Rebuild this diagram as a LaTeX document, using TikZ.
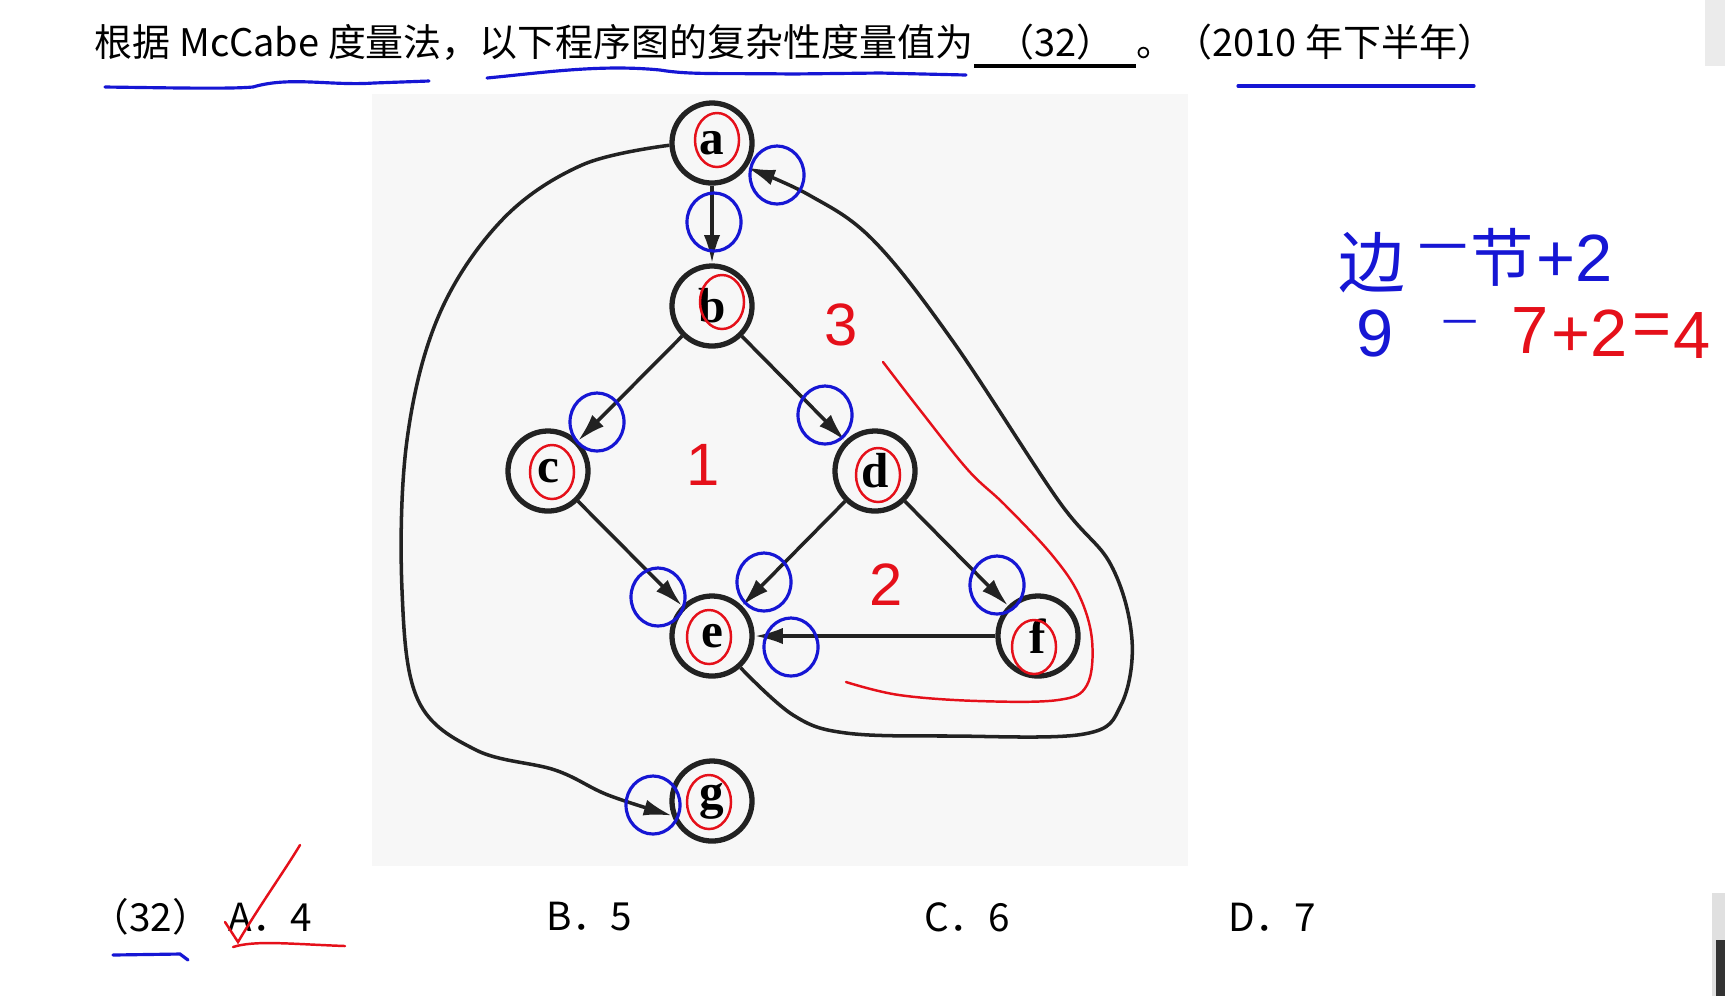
\documentclass[tikz,border=0pt]{standalone}
\usepackage{fontspec}
\setmainfont{Liberation Sans}
\newfontfamily\cjk{Noto Sans CJK SC}
\newfontfamily\letterfont{Liberation Serif}
\usetikzlibrary{positioning,arrows.meta}
\definecolor{figbg}{HTML}{F7F7F7}
\definecolor{inkred}{HTML}{E5101A}
\definecolor{inkblue}{HTML}{1616D4}
\definecolor{darkline}{HTML}{222222}

\begin{document}
\begin{tikzpicture}[
    x=0.01cm, y=-0.01cm,
    vertex/.style={circle, draw=darkline, line width=1.5pt, fill=figbg, minimum size=0.8cm, inner sep=0pt, font=\letterfont\bfseries\fontsize{14}{14}\selectfont},
    flow/.style={-{Latex[length=8pt,width=4.6pt]}, line width=1pt, draw=darkline},
    question/.style={inner sep=0pt, text height=0.85em, text depth=0.25em, font=\cjk\fontsize{10.8}{12}\selectfont},
    choice/.style={anchor=west, inner sep=0pt, font=\cjk\fontsize{11}{12}\selectfont},
    redpen/.style={draw=inkred, line width=0.7pt, line cap=round},
    bluepen/.style={draw=inkblue, line width=0.9pt, line cap=round},
    hand/.style={inner sep=0pt, font=\fontsize{19}{19}\selectfont}
]
    \useasboundingbox (0,0) rectangle (1725,996);
    \fill[white] (0,0) rectangle (1725,996);
    \fill[black!8] (1705,0) rectangle (1725,66);
    \fill[black!12] (1712,893) rectangle (1725,996);
    \fill[black!80] (1716,940) rectangle (1725,996);

    % question
    \node[question, anchor=west] (q1) at (94,46) {根据 McCabe 度量法，以下程序图的复杂性度量值为};
    \node[question, right=0pt of q1, minimum width=1.6cm] (blank) {（32）};
    \node[question, right=0pt of blank] (q2) {。（2010 年下半年）};
    \draw[line width=0.9pt] (blank.south west) -- (blank.south east);

    % program graph
    \fill[figbg] (372,94) rectangle (1188,866);
    \node[vertex] (a) at (712,143) {a};
    \node[vertex] (b) at (712,306) {b};
    \node[vertex] (c) at (548,471) {c};
    \node[vertex] (d) at (875,471) {d};
    \node[vertex] (e) at (712,636) {e};
    \node[vertex] (f) at (1038,636) {f};
    \node[vertex] (g) at (712,801) {g};

    \draw[flow] (a) -- (b);
    \draw[flow] (b) -- (c);
    \draw[flow] (b) -- (d);
    \draw[flow] (c) -- (e);
    \draw[flow] (d) -- (e);
    \draw[flow] (d) -- (f);
    \draw[flow] (f) -- (e);
    \draw[flow] plot[smooth, tension=0.6] coordinates {(e.-48) (793,715) (846,733) (952,736) (1084,734) (1121,705) (1132,640) (1111,565) (1058,500) (952,340) (873,240) (809,195) (a.-35)};
    \draw[flow] plot[smooth, tension=0.6] coordinates {(a.183) (582,165) (502,220) (439,315) (407,440) (402,590) (418,700) (476,750) (555,770) (608,795) (g.200)};

    % choices
    \node[choice] (n32) at (90,917) {（32）};
    \node[choice] (optA) at (228,917) {A．4};
    \node[choice] (optB) at (546,917) {B．5};
    \node[choice] (optC) at (924,917) {C．6};
    \node[choice] (optD) at (1228,917) {D．7};

    % pen marks
    \draw[bluepen] (105,87) .. controls (180,88) and (230,89) .. (253,87) .. controls (290,76) and (330,86) .. (374,83) -- (429,81);
    \draw[bluepen] (487,78) .. controls (540,73) and (600,64) .. (660,70) .. controls (690,75) and (720,73) .. (792,74) -- (880,73) -- (966,75);
    \draw[bluepen] (1238,86) -- (1474,86);
    \draw[bluepen] (113,955) -- (180,954) -- (188,960);
    \draw[redpen] (233,947) .. controls (255,940) and (290,944) .. (345,946);
    \draw[redpen] (225,922) -- (238,942) .. controls (260,905) and (285,870) .. (300,845);

    \foreach \x/\y in {717/140, 722/302, 552/472, 878/475, 709/637, 1034/647, 709/802}
        \draw[redpen] (\x,\y) ellipse [x radius=0.22cm, y radius=0.27cm];
    \foreach \x/\y in {777/175, 714/222, 597/422, 825/415, 658/597, 764/582, 997/585, 791/647, 653/805}
        \draw[bluepen] (\x,\y) ellipse [x radius=0.27cm, y radius=0.29cm];

    \node[hand, text=inkred, font=\fontsize{17}{17}\selectfont] (area3) at (841,325) {3};
    \node[hand, text=inkred, font=\fontsize{17}{17}\selectfont] (area1) at (703,465) {1};
    \node[hand, text=inkred, font=\fontsize{17}{17}\selectfont] (area2) at (886,585) {2};
    \draw[redpen] plot[smooth, tension=0.6] coordinates {(883,362) (920,410) (968,470) (1005,505) (1052,555) (1079,595) (1092,640) (1087,685) (1058,700) (978,701) (899,695) (846,682)};

    \node[hand, text=inkblue, font=\cjk\fontsize{19}{19}\selectfont] (edges) at (1372,263) {边};
    \node[hand, text=inkblue, font=\cjk\fontsize{14}{14}\selectfont] (minus1) at (1443,255) {一};
    \node[hand, text=inkblue, font=\cjk\fontsize{18}{18}\selectfont] (nodes) at (1502,257) {节};
    \node[hand, text=inkblue] (plus1) at (1575,258) {+2};
    \node[hand, text=inkblue] (nine) at (1375,333) {9};
    \node[hand, text=inkblue, font=\cjk\fontsize{10}{10}\selectfont] (minus2) at (1460,328) {一};
    \node[hand, text=inkred] (seven) at (1530,330) {7};
    \node[hand, text=inkred] (plus2) at (1590,333) {+2};
    \node[hand, text=inkred] (eq) at (1652,330) {=};
    \node[hand, text=inkred] (four) at (1692,335) {4};
\end{tikzpicture}
\end{document}
